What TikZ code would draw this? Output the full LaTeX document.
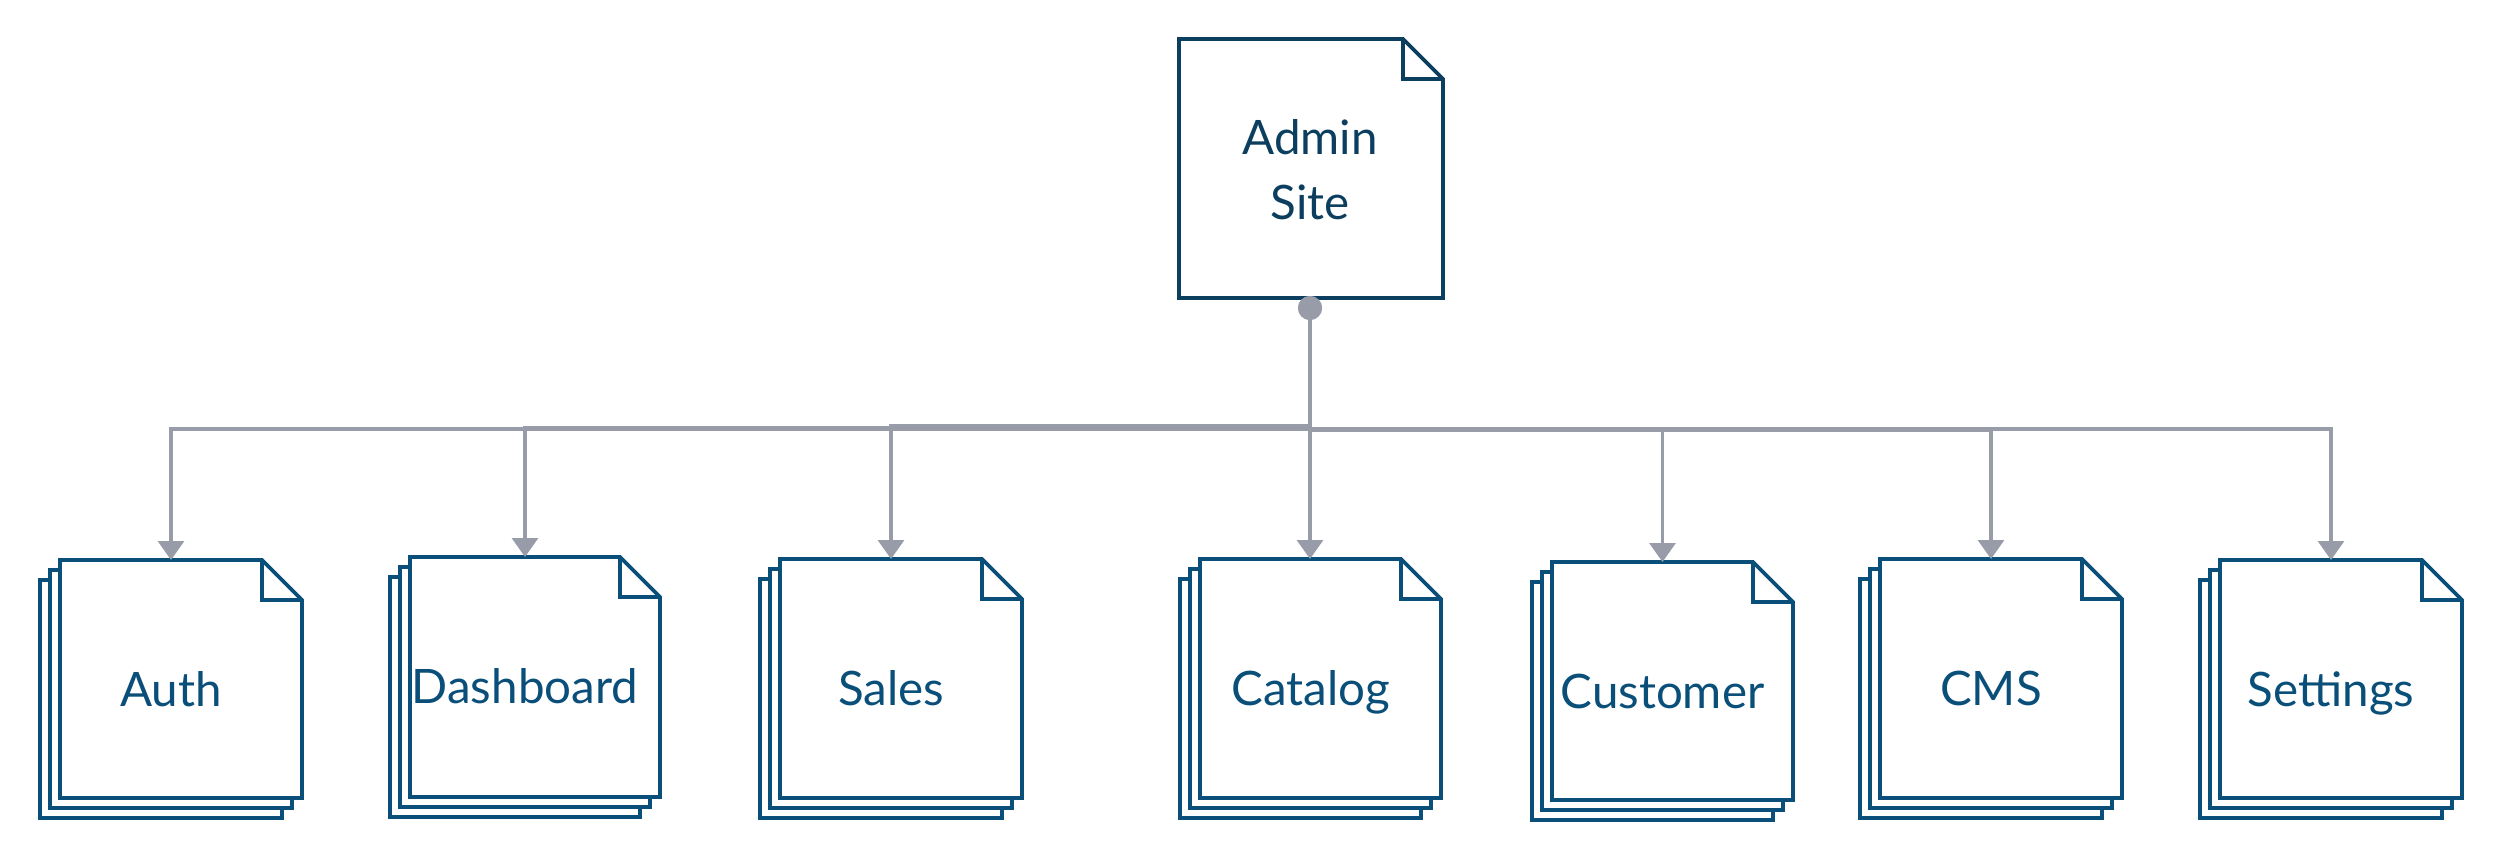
\documentclass[tikz,border=0pt]{standalone}
\usepackage{fontspec}
\setmainfont{Lato}
\usetikzlibrary{arrows.meta}
\definecolor{navy}{HTML}{0A4F79}
\definecolor{navydark}{HTML}{0C3F5F}
\definecolor{conngray}{HTML}{979CA8}
\tikzset{
  stk/.style={draw=navy, fill=white, line width=1.8pt, line join=miter},
  adminbox/.style={draw=navydark, fill=white, line width=1.8pt, line join=miter},
  lbl/.style={inner sep=0, font=\fontsize{23.75pt}{32.5pt}\selectfont, text=navy},
  conn/.style={draw=conngray, line width=1.55pt, -{Triangle[width=13pt,length=9.5pt]}},
  anchorbox/.style={inner sep=0, outer sep=0, draw=none},
}
% folded page outline: #1 left, #2 top, #3 width, #4 height
\newcommand\pageoutline[4]{(#1,#2) -- (#1+#3-40,#2) -- (#1+#3,#2+40) -- (#1+#3,#2+#4) -- (#1,#2+#4) -- cycle}
% #1 name, #2 front left, #3 front top, #4 width, #5 height, #6 label
\newcommand\docstack[6]{%
  \pgfmathsetmacro\dsw{(#4+20)*0.5}%
  \pgfmathsetmacro\dsh{(#5+20)*0.5}%
  \node[anchorbox, minimum width=\dsw pt, minimum height=\dsh pt, anchor=north west] (#1) at (#2-20,#3) {};
  \draw[stk] \pageoutline{#2-20}{#3+20}{#4}{#5};
  \draw[stk] \pageoutline{#2-10}{#3+10}{#4}{#5};
  \draw[stk] \pageoutline{#2}{#3}{#4}{#5};
  \draw[stk, fill=none] (#2+#4-40,#3) -- (#2+#4-40,#3+40) -- (#2+#4,#3+40);
  \node[lbl, anchor=base] (#1-t) at (#1.north |- 0,#3+146) {#6};
}
\begin{document}
\begin{tikzpicture}[x=0.5pt, y=-0.5pt]
\useasboundingbox[fill=white] (0,0) rectangle (2502,861);

% Admin site
\node[anchorbox, minimum width=132pt, minimum height=129.5pt, anchor=north west] (admin) at (1179,39) {};
\draw[adminbox] \pageoutline{1179}{39}{264}{259};
\draw[adminbox, fill=none] (1403,39) -- (1403,79) -- (1443,79);
\node[lbl, text=navydark, align=center, anchor=center] (admin-t) at (1310,169.5) {Admin\\Site};

% Children
\docstack{auth}{60}{560}{242}{238}{Auth}
\docstack{dash}{410}{557}{250}{240}{Dashboard}
\docstack{sales}{780}{559}{242}{239}{Sales}
\docstack{catalog}{1200}{559}{241}{239}{Catalog}
\docstack{customer}{1552}{562}{241}{238}{Customer}
\docstack{cms}{1880}{559}{242}{239}{CMS}
\docstack{settings}{2220}{560}{242}{238}{Settings}

% start dot
\node[circle, fill=conngray, minimum size=12pt, inner sep=0] (dot) at (1310,308) {};

% connectors
\draw[conn] (dot.center) -- (dot.center |- 0,429) -| (auth.north);
\draw[conn] (dot.center) -- (dot.center |- 0,427.5) -| (dash.north);
\draw[conn] (dot.center) -- (dot.center |- 0,426) -| (sales.north);
\draw[conn] (dot.center) -- (dot.center |- catalog.north);
\draw[conn] (dot.center) -- (dot.center |- 0,430) -| (customer.north);
\draw[conn] (dot.center) -- (dot.center |- 0,430) -| (cms.north);
\draw[conn] (dot.center) -- (dot.center |- 0,429) -| (settings.north);
\node[circle, fill=conngray, minimum size=12pt, inner sep=0] at (dot) {};
\end{tikzpicture}
\end{document}
